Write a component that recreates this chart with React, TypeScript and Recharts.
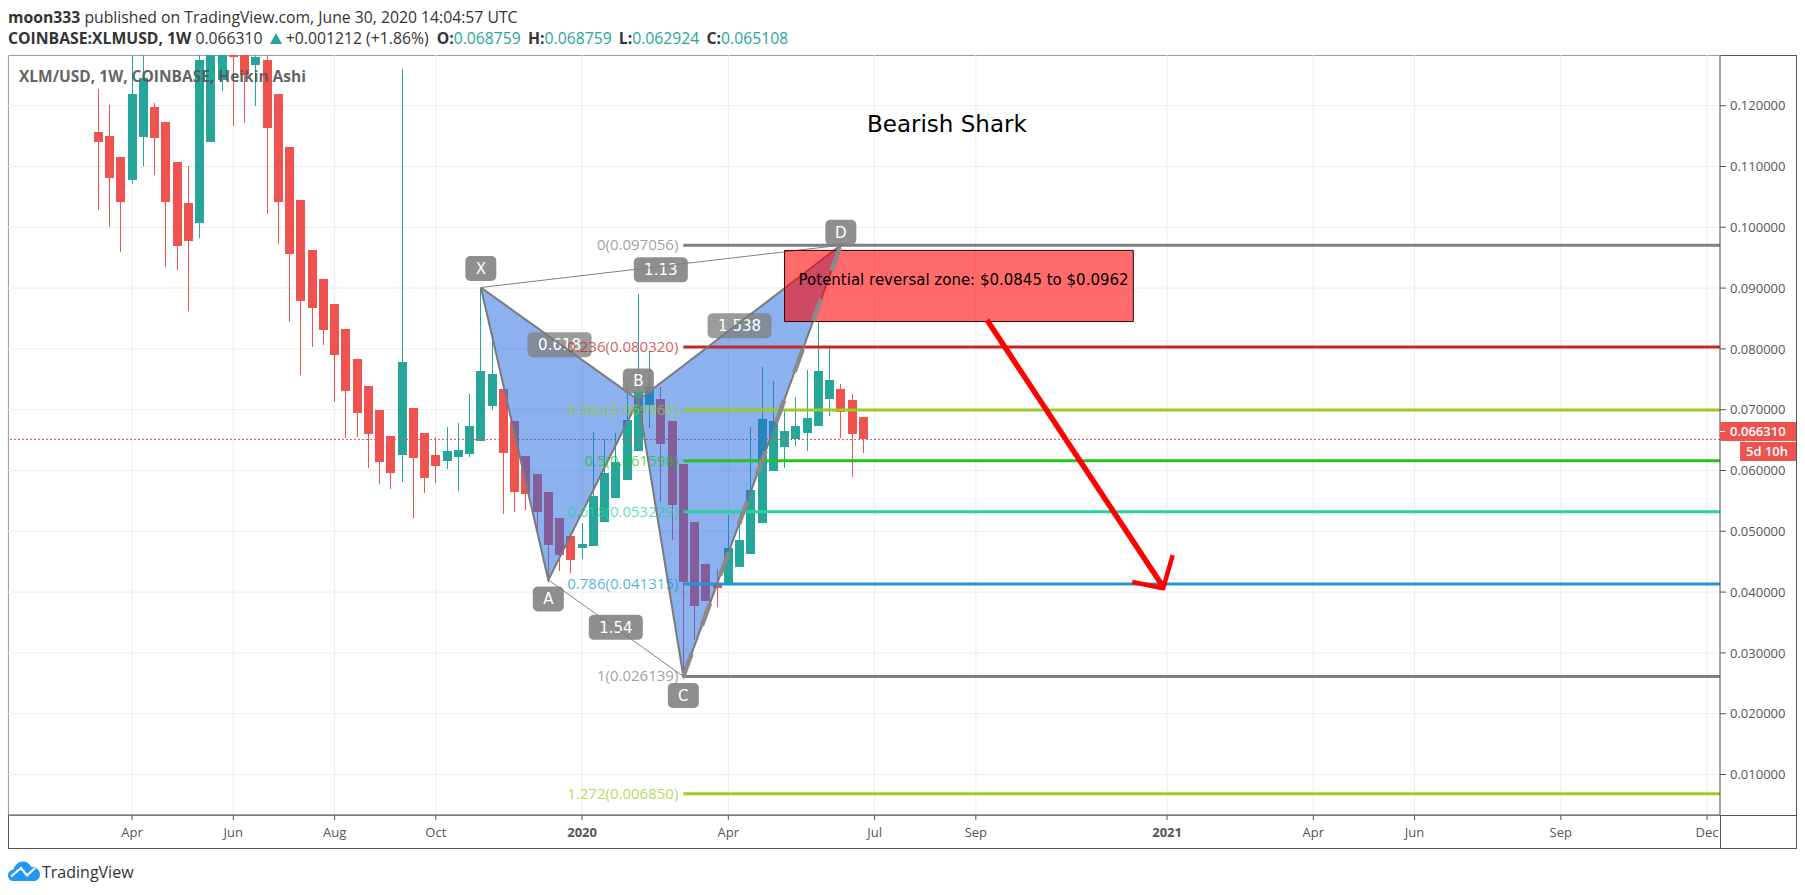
import {
  Bar,
  CartesianGrid,
  ComposedChart,
  Line,
  ReferenceArea,
  ReferenceDot,
  ReferenceLine,
  Scatter,
  XAxis,
  YAxis,
} from 'recharts';

const GREEN = '#26a69a';
const RED = '#ef5350';
const AXIS = '#555';
const FONT = '"Open Sans", sans-serif';
const WIDE_FONT = '"DejaVu Sans", sans-serif';

// weekly Heikin Ashi candles, first one is late March 2019
const opens = [
  0.11567, 0.11502, 0.11156, 0.10778, 0.11485, 0.11978, 0.11732, 0.11074, 0.104, 0.10071, 0.11403, 0.12423,
  0.133, 0.134, 0.12669, 0.12752, 0.12192, 0.11321, 0.10449, 0.09627, 0.0915, 0.08738, 0.08327, 0.07834,
  0.0739, 0.06995, 0.06567, 0.06255, 0.07028, 0.06617, 0.06255, 0.06156, 0.06222, 0.06271, 0.06485, 0.07061,
  0.0734, 0.06814, 0.06238, 0.05942, 0.05646, 0.05219, 0.04923, 0.04725, 0.04758, 0.05153, 0.05548, 0.05844,
  0.06321, 0.07077, 0.07176, 0.06814, 0.06107, 0.05153, 0.04462, 0.04133, 0.04155, 0.04413, 0.04627, 0.05136,
  0.05992, 0.06386, 0.06513, 0.06617, 0.06732, 0.07176, 0.0734, 0.07159, 0.06876,
];
const closes = [
  0.11403, 0.10811, 0.10416, 0.12192, 0.1245, 0.11469, 0.10416, 0.09692, 0.09775, 0.12752, 0.136, 0.135,
  0.12806, 0.12505, 0.12801, 0.11633, 0.10416, 0.09561, 0.08788, 0.08672, 0.08311, 0.079, 0.07307, 0.06946,
  0.066, 0.0614, 0.05959, 0.07784, 0.06205, 0.05877, 0.06074, 0.0632, 0.06337, 0.06732, 0.07636, 0.07587,
  0.06288, 0.05646, 0.05613, 0.05317, 0.04775, 0.0461, 0.04528, 0.04791, 0.05581, 0.05959, 0.0614, 0.06831,
  0.07291, 0.07373, 0.06436, 0.05433, 0.04166, 0.03771, 0.03853, 0.04067, 0.04725, 0.04857, 0.05679, 0.06847,
  0.06814, 0.0665, 0.06732, 0.06863, 0.07636, 0.07488, 0.06962, 0.066, 0.06511,
];
const highs = [
  0.12275, 0.12011, 0.11156, 0.1345, 0.131, 0.12044, 0.11732, 0.11074, 0.11008, 0.134, 0.14, 0.138,
  0.136, 0.136, 0.136, 0.135, 0.12192, 0.11321, 0.10449, 0.09627, 0.0915, 0.08738, 0.08327, 0.07834,
  0.0739, 0.06995, 0.06567, 0.12604, 0.07028, 0.06617, 0.06551, 0.06715, 0.06781, 0.07258, 0.09007, 0.08256,
  0.0734, 0.06814, 0.06238, 0.05942, 0.05646, 0.05219, 0.04923, 0.05136, 0.06633, 0.06518, 0.06617, 0.07406,
  0.08903, 0.07965, 0.07373, 0.06814, 0.06107, 0.05153, 0.04462, 0.0438, 0.05268, 0.05186, 0.06715, 0.07702,
  0.07472, 0.06995, 0.07209, 0.07653, 0.0845, 0.08015, 0.07423, 0.07258, 0.06876,
];
const lows = [
  0.10284, 0.10005, 0.09594, 0.10712, 0.11008, 0.1086, 0.09347, 0.09298, 0.08623, 0.09824, 0.11403, 0.12242,
  0.11666, 0.11715, 0.11995, 0.10219, 0.09725, 0.08442, 0.0757, 0.08031, 0.08064, 0.07127, 0.06534, 0.06551,
  0.06041, 0.05778, 0.05696, 0.05811, 0.05219, 0.0563, 0.05794, 0.06025, 0.05663, 0.06222, 0.06485, 0.06995,
  0.05284, 0.05317, 0.0535, 0.05021, 0.04199, 0.04347, 0.04314, 0.04544, 0.04758, 0.05153, 0.05548, 0.05844,
  0.06321, 0.06699, 0.05482, 0.04857, 0.02664, 0.03212, 0.03853, 0.03755, 0.04155, 0.04413, 0.04627, 0.05136,
  0.05992, 0.06041, 0.06403, 0.06321, 0.06732, 0.06896, 0.06534, 0.05893, 0.06288,
];

const candles = opens.map((open, i) => ({
  i,
  open,
  close: closes[i],
  range: [lows[i], highs[i]],
}));

const xDomain = [-8.03, 144.15];
const yDomain = [0.00334, 0.12834];
const priceTicks = [0.01, 0.02, 0.03, 0.04, 0.05, 0.06, 0.07, 0.08, 0.09, 0.1, 0.11, 0.12];
const timeTicks = [3, 12, 21, 30, 43, 56, 69, 78, 95, 108, 117, 130, 143];
const timeLabels = ['Apr', 'Jun', 'Aug', 'Oct', '2020', 'Apr', 'Jul', 'Sep', '2021', 'Apr', 'Jun', 'Sep', 'Dec'];

// harmonic pattern pivots
const X = { i: 34, v: 0.0901 };
const A = { i: 40, v: 0.042 };
const B = { i: 48, v: 0.0716 };
const C = { i: 52, v: 0.026139 };
const D = { i: 66, v: 0.097056 };
const triangleXAB = [X, A, B];
const triangleBCD = [B, C, D];
const pivotLabels = [
  { ...X, text: 'X', lift: -19 },
  { ...A, text: 'A', lift: 19 },
  { ...B, text: 'B', lift: -19 },
  { ...C, text: 'C', lift: 19 },
  { ...D, text: 'D', lift: -13 },
];
const ratioLabels = [
  { i: 50, v: 0.093, text: '1.13' },
  { i: 41, v: 0.0807, text: '0.618' },
  { i: 57, v: 0.0838, text: '1.538' },
  { i: 46, v: 0.0342, text: '1.54' },
];

const fibLevels = [
  { ratio: '0', v: 0.097056, color: '#808080' },
  { ratio: '0.236', v: 0.08032, color: '#c62828' },
  { ratio: '0.382', v: 0.069966, color: '#9ccc20' },
  { ratio: '0.5', v: 0.061598, color: '#22c322' },
  { ratio: '0.618', v: 0.053229, color: '#26d39a' },
  { ratio: '0.786', v: 0.041315, color: '#2196d3' },
  { ratio: '1', v: 0.026139, color: '#808080' },
  { ratio: '1.272', v: 0.00685, color: '#9ccc20' },
];

const zoneTop = 0.0962;
const zoneBottom = 0.0845;
const arrowShaft = [{ i: 79, v: 0.08475 }, { i: 94.6, v: 0.041 }];
const arrowHead = [{ i: 91.9, v: 0.04166 }, { i: 94.65, v: 0.04063 }, { i: 95.5, v: 0.0461 }];

const lastPrice = 0.06631;
const lastClose = 0.065108;

function Candle(props: any) {
  const { x, y, width, height, payload } = props;
  const [low, high] = payload.range;
  const toY = (price: number) => y + ((high - price) / (high - low)) * height;
  const color = payload.close >= payload.open ? GREEN : RED;
  const mid = Math.floor(x + width / 2);
  const top = Math.round(toY(Math.max(payload.open, payload.close)));
  const bottom = Math.round(toY(Math.min(payload.open, payload.close)));
  return (
    <g shapeRendering="crispEdges">
      <rect x={mid} y={y} width={1} height={height} fill={color} />
      <rect x={mid - 4} y={top} width={9} height={Math.max(bottom - top, 1)} fill={color} />
    </g>
  );
}

// gathers the pixel positions the scatter gets from the scales, then fills them
function trianglePiece(rows: { i: number; v: number }[]) {
  const seen: string[] = [];
  return function TrianglePiece(props: any) {
    if (props.payload === rows[0]) seen.length = 0;
    seen.push(`${props.cx},${props.cy}`);
    if (props.payload !== rows[rows.length - 1]) return <g />;
    return <polygon points={seen.join(' ')} fill="rgba(33,105,225,0.52)" />;
  };
}
const shapeXAB = trianglePiece(triangleXAB);
const shapeBCD = trianglePiece(triangleBCD);

function PatternBox({ cx, cy, text, width, opacity = 0.88 }: any) {
  return (
    <g>
      <rect x={cx - width / 2} y={cy - 12.5} width={width} height={25} rx={5} fill="#808080" fillOpacity={opacity} />
      <text x={cx} y={cy + 5.5} textAnchor="middle" fontFamily={WIDE_FONT} fontSize={15} fill="#fff">
        {text}
      </text>
    </g>
  );
}

function TimeTick({ x, y, payload }: any) {
  const label = timeLabels[timeTicks.indexOf(payload.value)];
  const isYear = label === '2020' || label === '2021';
  return (
    <text x={x} y={y + 15} textAnchor="middle" fontFamily={FONT} fontSize={13} fontWeight={isYear ? 700 : 400} fill={AXIS}>
      {label}
    </text>
  );
}

function PriceTag({ cx, cy }: any) {
  return (
    <g shapeRendering="crispEdges">
      <rect x={cx} y={cy - 10} width={76} height={19} fill={RED} />
      <rect x={cx} y={cy - 1} width={5} height={1} fill="#fff" />
      <text x={cx + 10} y={cy + 4} fontFamily={FONT} fontSize={13} fontWeight={600} fill="#fff" shapeRendering="auto">
        {lastPrice.toFixed(6)}
      </text>
      <rect x={cx + 20} y={cy + 10} width={56} height={19} fill={RED} />
      <text x={cx + 26} y={cy + 24} fontFamily={FONT} fontSize={13} fontWeight={600} fill="#fff" shapeRendering="auto">
        5d 10h
      </text>
    </g>
  );
}

const lineProps = { dataKey: 'v', dot: false, activeDot: false, isAnimationActive: false, legendType: 'none' as const };
const ohlcGap = { marginLeft: 3 };

function Logo() {
  return (
    <svg width={32} height={20} viewBox="0 0 32 20" style={{ position: 'absolute', left: 8, top: 861 }}>
      <path
        d="M5 20 C2 20 0 17 0 14.5 C0 11 2.5 9 5.5 8.5 C7 3.5 11 0.5 15 0.5 C19 0.5 22 3 23.5 6 C28 5.5 32 9 32 13.5 C32 17.5 29 20 26 20 Z"
        fill="#2196f3"
      />
      <path d="M3 15.5 L13 7 L19 14.5 L27 7" fill="none" stroke="#fff" strokeWidth={2.2} />
    </svg>
  );
}

export default function App() {
  return (
    <div style={{ position: 'absolute', left: 0, top: 0, width: 1805, height: 895, background: '#fff', fontFamily: FONT, overflow: 'hidden' }}>
      <div style={{ position: 'absolute', left: 8, top: 8, fontSize: 15.75, color: '#333', whiteSpace: 'nowrap', lineHeight: '18px' }}>
        <b>moon333</b> published on TradingView.com, June 30, 2020 14:04:57 UTC
      </div>
      <div style={{ position: 'absolute', left: 8, top: 29, fontSize: 15.75, color: '#333', whiteSpace: 'nowrap', lineHeight: '18px' }}>
        <b>COINBASE:XLMUSD, 1W</b> 0.066310{' '}
        <span style={{ display: 'inline-block', marginLeft: 3, borderLeft: '6px solid transparent', borderRight: '6px solid transparent', borderBottom: `11px solid ${GREEN}` }} />{' '}
        +0.001212 (+1.86%) <b style={{ marginLeft: 4 }}>O:</b>
        <span style={{ color: GREEN }}>0.068759</span> <b style={ohlcGap}>H:</b>
        <span style={{ color: GREEN }}>0.068759</span> <b style={ohlcGap}>L:</b>
        <span style={{ color: GREEN }}>0.062924</span> <b style={ohlcGap}>C:</b>
        <span style={{ color: GREEN }}>0.065108</span>
      </div>

      <div style={{ position: 'absolute', left: 8, top: 55, width: 1787, height: 792, border: `1px solid ${AXIS}` }} />
      <div style={{ position: 'absolute', left: 8, top: 815, width: 1788, height: 1, background: AXIS }} />
      <div style={{ position: 'absolute', left: 1720, top: 815, width: 1, height: 33, background: AXIS }} />

      <div style={{ position: 'absolute', left: 0, top: 0 }}>
        <ComposedChart
          width={1805}
          height={895}
          data={candles}
          margin={{ top: 55, left: 8, right: 9, bottom: 47 }}
          style={{ background: 'transparent' }}
        >
          <CartesianGrid stroke="#e6eef4" />
          <XAxis
            dataKey="i"
            type="number"
            domain={xDomain}
            allowDataOverflow
            ticks={timeTicks}
            interval={0}
            height={33}
            tickSize={5}
            tick={<TimeTick />}
            stroke={AXIS}
          />
          <YAxis
            dataKey="v"
            orientation="right"
            type="number"
            domain={yDomain}
            allowDataOverflow
            ticks={priceTicks}
            interval={0}
            width={76}
            tickSize={6}
            tickMargin={4}
            tickFormatter={(value: number) => value.toFixed(6)}
            tick={{ fill: AXIS, fontSize: 13, fontFamily: FONT }}
            stroke={AXIS}
          />

          <Bar dataKey="range" barSize={9} shape={<Candle />} isAnimationActive={false} legendType="none" zIndex={300} />

          <ReferenceLine y={lastClose} stroke={RED} strokeDasharray="2 2" zIndex={305} />

          <Scatter data={triangleXAB} dataKey="v" shape={shapeXAB} isAnimationActive={false} legendType="none" zIndex={310} />
          <Scatter data={triangleBCD} dataKey="v" shape={shapeBCD} isAnimationActive={false} legendType="none" zIndex={310} />

          {fibLevels.map((level) => (
            <ReferenceLine
              key={level.ratio}
              segment={[{ x: C.i, y: level.v }, { x: xDomain[1], y: level.v }]}
              stroke={level.color}
              strokeWidth={3}
              zIndex={320}
            />
          ))}

          {ratioLabels.map((r) => (
            <ReferenceDot
              key={r.text}
              x={r.i}
              y={r.v}
              zIndex={330}
              shape={(p: any) => (
                <PatternBox cx={p.cx} cy={p.cy} text={r.text} width={r.text.length > 4 ? 64 : 54} opacity={r.text.length > 4 ? 0.78 : 0.88} />
              )}
            />
          ))}

          <Line {...lineProps} data={[X, D]} stroke="#808080" strokeWidth={1} zIndex={340} />
          <Line {...lineProps} data={[A, C]} stroke="#808080" strokeWidth={1} zIndex={340} />
          <Line {...lineProps} data={[X, A, B, X]} stroke="#7a7a7a" strokeWidth={2} zIndex={340} />
          <Line {...lineProps} data={[B, C, D, B]} stroke="#7a7a7a" strokeWidth={2} zIndex={340} />

          {fibLevels.map((level) => (
            <ReferenceDot
              key={level.ratio}
              x={C.i}
              y={level.v}
              ifOverflow="visible"
              zIndex={350}
              shape={(p: any) => (
                <text x={p.cx - 5} y={p.cy + 5} textAnchor="end" fontFamily={FONT} fontSize={15} fill={level.color} fillOpacity={0.75}>
                  {`${level.ratio}(${level.v.toFixed(6)})`}
                </text>
              )}
            />
          ))}

          {pivotLabels.map((p) => (
            <ReferenceDot
              key={p.text}
              x={p.i}
              y={p.v}
              zIndex={360}
              shape={(s: any) => <PatternBox cx={s.cx} cy={s.cy + p.lift} text={p.text} width={31} />}
            />
          ))}

          <ReferenceArea
            x1={61}
            x2={92}
            y1={zoneBottom}
            y2={zoneTop}
            fill="#ff0000"
            fillOpacity={0.58}
            stroke="#3a0000"
            strokeWidth={1}
            ifOverflow="visible"
            zIndex={370}
            label={{
              value: 'Potential reversal zone: $0.0845 to $0.0962',
              position: 'insideLeft',
              offset: 14,
              dy: -6,
              fill: '#000',
              fontSize: 15,
              fontFamily: WIDE_FONT,
            }}
          />

          <Line {...lineProps} data={arrowShaft} stroke="#ff0000" strokeWidth={5.5} zIndex={380} />
          <Line {...lineProps} data={arrowHead} stroke="#ff0000" strokeWidth={4.5} strokeLinejoin="round" zIndex={380} />

          <Line {...lineProps} data={[C, D]} stroke="#8a8a8a" strokeWidth={4.5} strokeDasharray="24 30" zIndex={390} />

          <ReferenceDot x={xDomain[1]} y={lastPrice} ifOverflow="visible" shape={<PriceTag />} zIndex={2000} />
        </ComposedChart>
      </div>

      <div style={{ position: 'absolute', left: 19, top: 66, fontSize: 15.5, fontWeight: 700, color: '#555', opacity: 0.9, whiteSpace: 'nowrap', lineHeight: '20px' }}>
        XLM/USD, 1W, COINBASE, Heikin Ashi
      </div>
      <div style={{ position: 'absolute', left: 867, top: 110, fontFamily: WIDE_FONT, fontSize: 23, color: '#000', whiteSpace: 'nowrap', lineHeight: '28px' }}>
        Bearish Shark
      </div>

      <Logo />
      <div style={{ position: 'absolute', left: 42, top: 861, fontSize: 16, color: '#333', whiteSpace: 'nowrap', lineHeight: '22px' }}>
        TradingView
      </div>
    </div>
  );
}
